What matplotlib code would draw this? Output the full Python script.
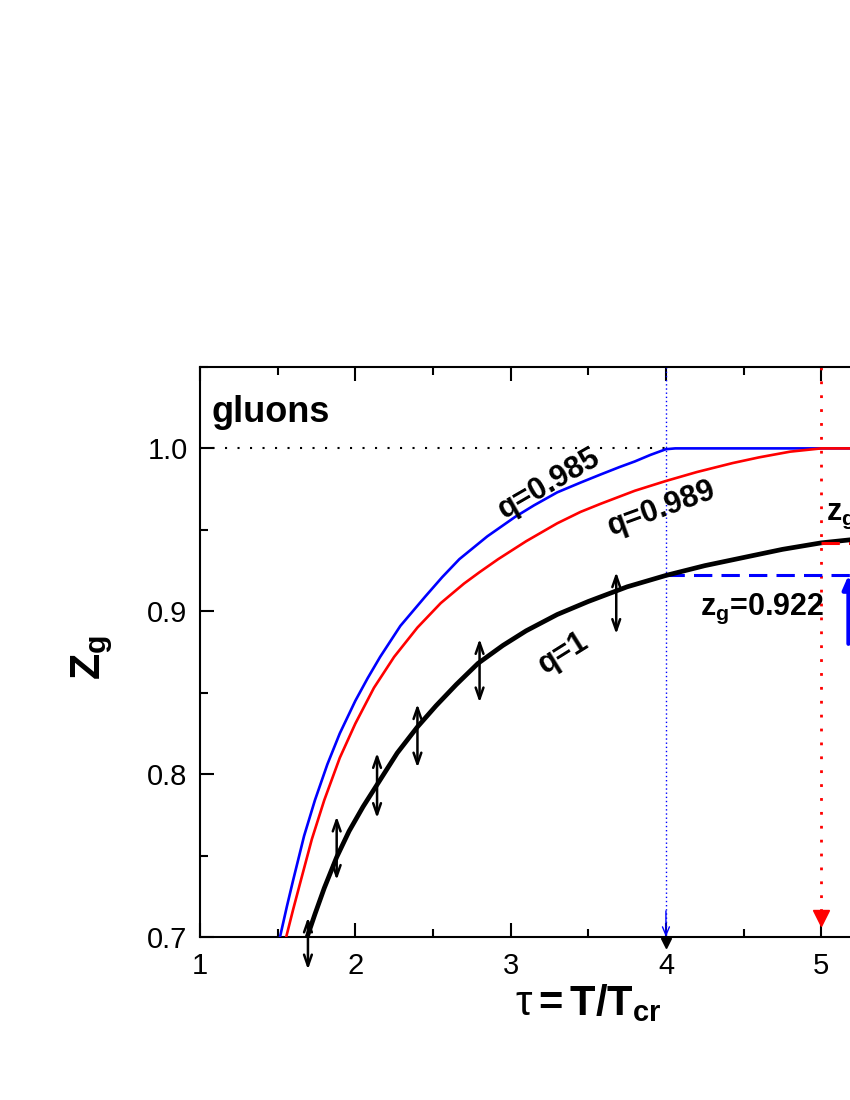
import matplotlib
matplotlib.use("Agg")
import matplotlib.pyplot as plt
from matplotlib.ticker import MultipleLocator

plt.rcParams["font.family"] = ["Liberation Sans", "DejaVu Sans"]
plt.rcParams["mathtext.fontset"] = "custom"
plt.rcParams["mathtext.rm"] = "Liberation Sans"
plt.rcParams["mathtext.it"] = "Liberation Sans"
plt.rcParams["mathtext.bf"] = "Liberation Sans:bold"

# curves (tau, z_g)
q1_x = [1.69, 1.74, 1.80, 1.88, 1.96, 2.05, 2.15, 2.27, 2.40, 2.52, 2.65, 2.79,
        2.95, 3.1, 3.3, 3.5, 3.75, 4.0, 4.25, 4.5, 4.75, 5.0, 5.5, 6.0]
q1_y = [0.700, 0.714, 0.730, 0.749, 0.765, 0.780, 0.795, 0.813, 0.829, 0.842, 0.855, 0.868,
        0.879, 0.888, 0.898, 0.906, 0.915, 0.922, 0.928, 0.933, 0.938, 0.942, 0.947, 0.951]

q985_x = [1.515, 1.56, 1.6, 1.67, 1.74, 1.82, 1.9, 2.0, 2.08, 2.16, 2.29, 2.45, 2.56,
          2.67, 2.85, 3.03, 3.15, 3.3, 3.45, 3.58, 3.7, 3.8, 3.9, 4.0, 4.06, 6.0]
q985_y = [0.700, 0.719, 0.735, 0.762, 0.784, 0.806, 0.825, 0.845, 0.859, 0.872, 0.891, 0.909,
          0.921, 0.932, 0.946, 0.958, 0.965, 0.973, 0.979, 0.984, 0.9885, 0.992, 0.996,
          0.9995, 1.0, 1.0]

q989_x = [1.555, 1.6, 1.65, 1.72, 1.80, 1.9, 2.0, 2.12, 2.25, 2.4, 2.55, 2.7, 2.8, 2.92,
          3.1, 3.3, 3.45, 3.58, 3.8, 4.0, 4.2, 4.43, 4.6, 4.8, 5.0, 6.0]
q989_y = [0.700, 0.717, 0.735, 0.760, 0.784, 0.810, 0.831, 0.853, 0.872, 0.890, 0.905,
          0.917, 0.924, 0.932, 0.943, 0.954, 0.961, 0.966, 0.974, 0.980, 0.9855, 0.991,
          0.9945, 0.998, 1.0, 1.0]

# vertical double arrows on the q=1 curve
arrow_x = [1.695, 1.88, 2.14, 2.40, 2.80, 3.68]
arrow_lo = [0.680, 0.735, 0.773, 0.804, 0.844, 0.886]
arrow_hi = [0.712, 0.774, 0.813, 0.843, 0.883, 0.924]

tau_blue = 4.0
tau_red = 5.0
zg_blue = 0.922
zg_red = 0.942

fig = plt.figure(figsize=(8.5, 11), dpi=100)
ax = fig.add_axes([0.2353, 0.1482, 0.9136, 0.5182])

ax.plot(q985_x, q985_y, color="blue", lw=1.9, zorder=3)
ax.plot(q989_x, q989_y, color="red", lw=1.9, zorder=3)
ax.plot(q1_x, q1_y, color="black", lw=3.4, zorder=4, solid_capstyle="round")

# reference lines
ax.plot([1.0, tau_blue], [1.0, 1.0], color="black", lw=1.5, ls=(0, (1, 5)), zorder=2)
ax.plot([tau_blue, tau_blue], [1.05, 0.70], color="blue", lw=1.0, ls=(0, (1, 2)), zorder=2)
ax.plot([tau_red, tau_red], [1.05, 0.714], color="red", lw=2.0, ls=(0, (1, 4)), zorder=2)
ax.plot([tau_red], [0.7115], marker="v", ms=12, color="red", ls="none", zorder=5)
ax.annotate("", xy=(tau_blue, 0.700), xytext=(tau_blue, 0.716),
            arrowprops=dict(arrowstyle="->,head_length=0.6,head_width=0.25",
                            color="blue", lw=1.0, shrinkA=0, shrinkB=0))
ax.plot([tau_blue], [0.6965], marker="v", ms=7, color="black", ls="none",
        clip_on=False, zorder=5)

ax.plot([tau_blue, 6.0], [zg_blue, zg_blue], color="blue", lw=2.2,
        dashes=(6, 3), zorder=3)
ax.plot([tau_red, 6.0], [zg_red, zg_red], color="red", lw=2.2,
        dashes=(6, 3), zorder=5)
ax.annotate("", xy=(5.175, zg_blue), xytext=(5.175, 0.880),
            arrowprops=dict(arrowstyle="-|>,head_length=0.8,head_width=0.35",
                            color="blue", lw=3, shrinkA=0, shrinkB=0))

for x, lo, hi in zip(arrow_x, arrow_lo, arrow_hi):
    ax.annotate("", xy=(x, lo), xytext=(x, hi), annotation_clip=False,
                arrowprops=dict(arrowstyle="<->,head_length=0.8,head_width=0.28",
                                color="black", lw=1.8, shrinkA=0, shrinkB=0))

# texts
ax.text(1.077, 1.016, "gluons", fontsize=26, fontweight="bold", ha="left", va="baseline")
ax.text(3.25, 0.978, "q=0.985", fontsize=22, fontweight="bold", rotation=30,
        ha="center", va="center")
ax.text(3.97, 0.963, "q=0.989", fontsize=22, fontweight="bold", rotation=20,
        ha="center", va="center")
ax.text(3.34, 0.874, "q=1", fontsize=22, fontweight="bold", rotation=32,
        ha="center", va="center")
ax.text(4.22, 0.898, r"$\mathbf{z_g}$=0.922", fontsize=22, fontweight="bold",
        ha="left", va="baseline")
ax.text(5.03, 0.956, r"$\mathbf{z_g}$=0.942", fontsize=22, fontweight="bold",
        ha="left", va="baseline")

ax.set_xlim(1, 6)
ax.set_ylim(0.70, 1.05)
ax.xaxis.set_major_locator(MultipleLocator(1))
ax.xaxis.set_minor_locator(MultipleLocator(0.5))
ax.yaxis.set_major_locator(MultipleLocator(0.1))
ax.yaxis.set_minor_locator(MultipleLocator(0.05))
ax.xaxis.set_major_formatter(plt.FuncFormatter(lambda v, p: f"{v:.0f}"))
ax.yaxis.set_major_formatter(plt.FuncFormatter(lambda v, p: f"{v:.1f}"))

ax.tick_params(which="both", direction="in", top=True, right=True, width=1.5,
               labelsize=21)
ax.tick_params(which="major", length=10)
ax.tick_params(which="minor", length=6)
ax.tick_params(axis="x", pad=11)
ax.tick_params(axis="y", pad=9)
for s in ax.spines.values():
    s.set_linewidth(1.5)

ax.set_xlabel(r"$\tau$$\mathbf{=T/T_{cr}}$", fontsize=30)
ax.xaxis.set_label_coords(0.5, -0.08)
ax.set_ylabel(r"$\mathbf{Z_g}$", fontsize=31)
ax.yaxis.set_label_coords(-0.11, 0.49)

fig.savefig("out.png", dpi=100)
